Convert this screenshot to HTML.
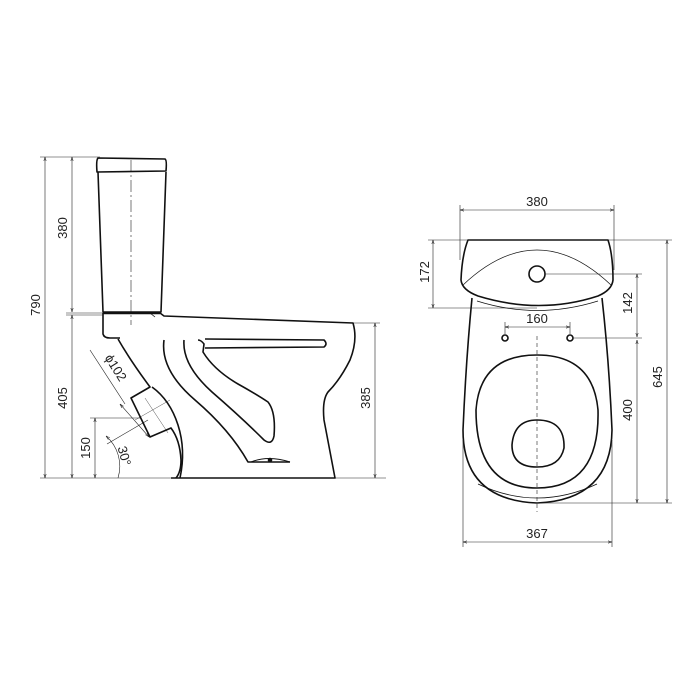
<!DOCTYPE html>
<html><head><style>html,body{margin:0;padding:0;background:#fff}svg{display:block}</style></head>
<body>
<svg width="700" height="700" viewBox="0 0 700 700" xmlns="http://www.w3.org/2000/svg" font-family="'Liberation Sans', sans-serif">
<defs>
<marker id="a" viewBox="0 0 10 10" refX="10" refY="5" markerWidth="7" markerHeight="7" orient="auto-start-reverse"><path d="M0,2 L10,5 L0,8" fill="none" stroke="#222" stroke-width="1.2"/></marker>
</defs>
<g stroke="#222" stroke-width="0.6" fill="none">
<line x1="45" y1="157" x2="45" y2="478" marker-start="url(#a)" marker-end="url(#a)"/>
<line x1="72" y1="157" x2="72" y2="312" marker-start="url(#a)" marker-end="url(#a)"/>
<line x1="72" y1="315" x2="72" y2="478" marker-start="url(#a)" marker-end="url(#a)"/>
<line x1="95" y1="418" x2="95" y2="478" marker-start="url(#a)" marker-end="url(#a)"/>
<line x1="40" y1="157" x2="100" y2="157"/>
<line x1="40" y1="478" x2="386" y2="478"/>
<line x1="66" y1="313" x2="103" y2="313"/>
<line x1="66" y1="315" x2="103" y2="315"/>
<line x1="90" y1="418" x2="140" y2="418"/>
<line x1="352" y1="323" x2="380" y2="323"/>
<line x1="375" y1="323" x2="375" y2="478" marker-start="url(#a)" marker-end="url(#a)"/>
<line x1="131" y1="160" x2="131" y2="325" stroke-dasharray="12,3,2,3"/>
<line x1="90" y1="350" x2="125" y2="404"/>
<line x1="107" y1="444" x2="148" y2="420"/>
<line x1="120" y1="404" x2="149" y2="437" marker-start="url(#a)" marker-end="url(#a)"/>
<line x1="145" y1="398" x2="168" y2="433" stroke-width="0.4"/>
<line x1="135" y1="420" x2="170" y2="400" stroke-width="0.4"/>
<path d="M106,436 A40 40 0 0 1 118,478" marker-start="url(#a)"/>
</g>
<g stroke="#111" stroke-width="1.6" fill="none" stroke-linejoin="round">
<path d="M98,158 L165,159 Q167,160 166,171 L97,172 Q96,160 98,158 Z"/>
<path d="M98,172 L103,312 L161,312 L166,172"/>
<path d="M103,313 L160,313 L164,316 L353,323 Q358,340 350,360 Q340,380 328,392 Q322,400 324,420 L335,478 L171,478"/>
<path d="M103,313 L103,334 Q104,338 110,338 L120,338"/>
<line x1="103" y1="313" x2="160" y2="313" stroke-width="2.5"/>
<line x1="150" y1="313" x2="155" y2="317" stroke-width="0.8"/>
<path d="M118,339 Q130,360 150,387 L131,398 L150,437 L171,428 Q180,440 181,460 Q181,472 176,478"/>
<path d="M152,387 Q170,400 178,425 Q186,450 180,478"/>
<path d="M205,339 L324,340 Q328,344 324,347 L205,348"/>
<path d="M164,340 Q160,370 195,400 Q230,430 248,462 L290,462"/>
<path d="M184,340 Q182,365 212,392 Q242,418 264,440 Q272,446 274,436 Q276,412 268,402 Q256,394 238,384 Q214,370 203,352 L204,344 Q201,340 198,340"/>
<path d="M251,462 Q268,455 290,462" stroke-width="1"/>
<circle cx="270" cy="460" r="1.5" fill="#111"/>
<path d="M468,240 L608,240 Q613,255 613,280 Q612,290 598,296 Q540,315 478,296 Q462,290 461,280 Q462,255 468,240 Z"/>
<path d="M463,285 Q537,215 611,285" stroke-width="0.7"/>
<circle cx="537" cy="274" r="8"/>
<path d="M472,298 Q466,360 463,430 Q463,500 537,503 Q611,500 612,430 Q609,360 602,298"/>
<path d="M477,301 Q537,320 598,301" stroke-width="0.8"/>
<path d="M537,355 Q593,355 598,410 Q600,488 537,488 Q476,488 476,410 Q480,355 537,355 Z"/>
<path d="M537,420 Q565,420 564,448 Q560,467 537,467 Q512,467 512,445 Q514,420 537,420 Z"/>
<path d="M478,484 Q537,512 597,484" stroke-width="0.8"/>
<circle cx="505" cy="338" r="3"/>
<circle cx="570" cy="338" r="3"/>
</g>
<g stroke="#222" stroke-width="0.6" fill="none">
<line x1="460" y1="205" x2="460" y2="260"/>
<line x1="614" y1="205" x2="614" y2="270"/>
<line x1="460" y1="210" x2="614" y2="210" marker-start="url(#a)" marker-end="url(#a)"/>
<line x1="428" y1="240" x2="672" y2="240"/>
<line x1="428" y1="308" x2="537" y2="308"/>
<line x1="433" y1="240" x2="433" y2="308" marker-start="url(#a)" marker-end="url(#a)"/>
<line x1="545" y1="274" x2="642" y2="274"/>
<line x1="573" y1="338" x2="642" y2="338"/>
<line x1="637" y1="274" x2="637" y2="337" marker-start="url(#a)" marker-end="url(#a)"/>
<line x1="637" y1="340" x2="637" y2="503" marker-start="url(#a)" marker-end="url(#a)"/>
<line x1="667" y1="240" x2="667" y2="503" marker-start="url(#a)" marker-end="url(#a)"/>
<line x1="537" y1="503" x2="672" y2="503"/>
<line x1="505" y1="322" x2="505" y2="334"/>
<line x1="570" y1="322" x2="570" y2="334"/>
<line x1="505" y1="327" x2="570" y2="327" marker-start="url(#a)" marker-end="url(#a)"/>
<line x1="463" y1="440" x2="463" y2="547"/>
<line x1="612" y1="440" x2="612" y2="547"/>
<line x1="463" y1="542" x2="612" y2="542" marker-start="url(#a)" marker-end="url(#a)"/>
<line x1="537" y1="336" x2="537" y2="512" stroke-dasharray="4,3"/>
</g>
<g fill="#222" font-size="13" text-anchor="middle">
<text transform="translate(40,305) rotate(-90)">790</text>
<text transform="translate(67,228) rotate(-90)">380</text>
<text transform="translate(67,398) rotate(-90)">405</text>
<text transform="translate(90,448) rotate(-90)">150</text>
<text transform="translate(370,398) rotate(-90)">385</text>
<text transform="translate(112,370) rotate(58)">ϕ102</text>
<text transform="translate(120,457) rotate(75)">30°</text>
<text x="537" y="206">380</text>
<text transform="translate(429,272) rotate(-90)">172</text>
<text transform="translate(632,303) rotate(-90)">142</text>
<text transform="translate(632,410) rotate(-90)">400</text>
<text transform="translate(662,377) rotate(-90)">645</text>
<text x="537" y="323">160</text>
<text x="537" y="538">367</text>
</g>
</svg>
</body></html>
